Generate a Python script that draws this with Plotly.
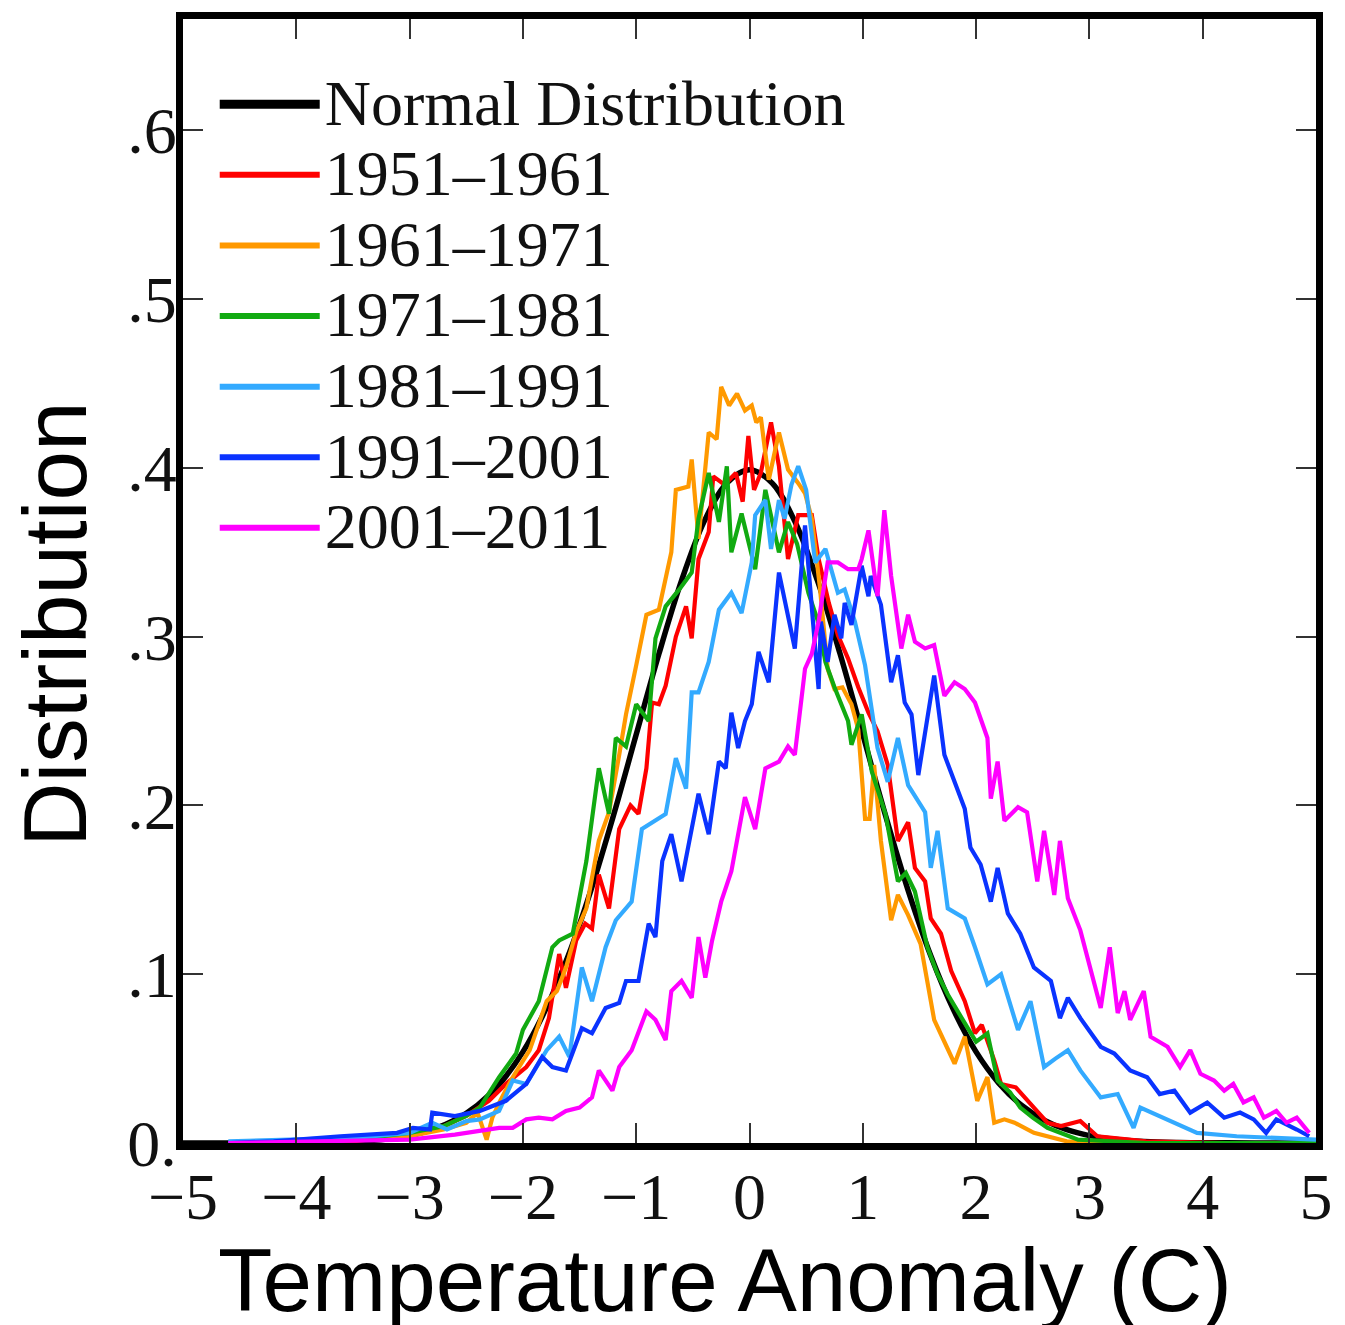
import plotly.graph_objects as go

# ---------------- data ----------------
normal_x = [-5.0, -4.6, -4.2, -4.0, -3.8, -3.6, -3.4, -3.2, -3.0, -2.8, -2.6, -2.4, -2.2, -2.0, -1.8, -1.6,
            -1.4, -1.2, -1.0, -0.8, -0.6, -0.4, -0.2, 0.0, 0.2, 0.4, 0.6, 0.8, 1.0, 1.2, 1.4, 1.6, 1.8,
            2.0, 2.2, 2.4, 2.6, 2.8, 3.0, 3.2, 3.4, 3.6, 3.8, 4.0, 4.2, 4.6, 5.0]
normal_y = [0.0, 0.0, 0.0001, 0.0001, 0.0003, 0.0006, 0.0012, 0.0024, 0.0044, 0.0079, 0.0136, 0.0224,
            0.0355, 0.0540, 0.0790, 0.1109, 0.1497, 0.1942, 0.2420, 0.2897, 0.3332, 0.3683, 0.3910,
            0.3989, 0.3910, 0.3683, 0.3332, 0.2897, 0.2420, 0.1942, 0.1497, 0.1109, 0.0790, 0.0540,
            0.0355, 0.0224, 0.0136, 0.0079, 0.0044, 0.0024, 0.0012, 0.0006, 0.0003, 0.0001, 0.0001,
            0.0, 0.0]

red_x = [-4.6, -3.5, -3.0, -2.7, -2.5, -2.3, -2.15, -1.97, -1.86, -1.77, -1.68, -1.62, -1.53, -1.45, -1.39,
         -1.33, -1.24, -1.15, -1.05, -0.98, -0.91, -0.86, -0.80, -0.74, -0.65, -0.56, -0.51, -0.45, -0.36,
         -0.32, -0.22, -0.12, -0.06, -0.01, 0.04, 0.10, 0.19, 0.26, 0.34, 0.43, 0.55, 0.61, 0.70, 0.78,
         0.87, 0.96, 1.05, 1.13, 1.22, 1.31, 1.40, 1.46, 1.55, 1.60, 1.69, 1.78, 1.90, 1.99, 2.05, 2.16,
         2.22, 2.35, 2.51, 2.63, 2.75, 2.92, 3.07, 3.5, 4.2, 5.0]
red_y = [0.0, 0.001, 0.005, 0.010, 0.016, 0.025, 0.035, 0.045, 0.055, 0.074, 0.112, 0.092, 0.120, 0.130,
         0.127, 0.159, 0.139, 0.186, 0.200, 0.195, 0.222, 0.261, 0.260, 0.271, 0.300, 0.318, 0.299, 0.346,
         0.362, 0.395, 0.390, 0.397, 0.380, 0.419, 0.387, 0.397, 0.427, 0.401, 0.346, 0.372, 0.372, 0.346,
         0.320, 0.301, 0.287, 0.270, 0.255, 0.244, 0.224, 0.179, 0.190, 0.163, 0.155, 0.133, 0.124, 0.102,
         0.084, 0.065, 0.070, 0.049, 0.035, 0.033, 0.021, 0.012, 0.010, 0.013, 0.004, 0.001, 0.0, 0.0]

orange_x = [-4.6, -3.5, -3.0, -2.7, -2.5, -2.4, -2.32, -2.27, -2.2, -2.09, -1.94, -1.79, -1.70, -1.62,
            -1.53, -1.44, -1.33, -1.24, -1.15, -1.09, -1.00, -0.91, -0.80, -0.69, -0.65, -0.54, -0.51,
            -0.45, -0.36, -0.29, -0.25, -0.18, -0.11, -0.04, 0.02, 0.06, 0.10, 0.17, 0.26, 0.34, 0.43,
            0.49, 0.55, 0.62, 0.69, 0.75, 0.82, 0.90, 0.96, 1.02, 1.06, 1.10, 1.16, 1.25, 1.31, 1.40,
            1.51, 1.63, 1.72, 1.81, 1.90, 2.01, 2.10, 2.16, 2.25, 2.34, 2.51, 2.80, 3.5, 5.0]
orange_y = [0.0, 0.002, 0.004, 0.008, 0.012, 0.018, 0.002, 0.015, 0.025, 0.039, 0.055, 0.084, 0.090,
            0.104, 0.125, 0.139, 0.179, 0.196, 0.230, 0.254, 0.283, 0.313, 0.316, 0.350, 0.387, 0.389,
            0.405, 0.358, 0.421, 0.417, 0.448, 0.437, 0.444, 0.434, 0.437, 0.427, 0.430, 0.393, 0.421,
            0.399, 0.391, 0.385, 0.370, 0.330, 0.281, 0.269, 0.270, 0.260, 0.245, 0.192, 0.192, 0.224,
            0.179, 0.132, 0.147, 0.135, 0.118, 0.073, 0.060, 0.047, 0.063, 0.025, 0.039, 0.012, 0.014,
            0.012, 0.006, 0.001, 0.0, 0.0]

green_x = [-4.6, -3.5, -3.0, -2.7, -2.5, -2.38, -2.21, -2.06, -2.00, -1.86, -1.74, -1.68, -1.56, -1.44,
           -1.33, -1.24, -1.18, -1.09, -1.00, -0.89, -0.83, -0.74, -0.62, -0.51, -0.45, -0.36, -0.27,
           -0.20, -0.16, -0.07, 0.05, 0.14, 0.26, 0.34, 0.42, 0.52, 0.60, 0.67, 0.75, 0.87, 0.90, 0.99,
           1.08, 1.16, 1.20, 1.31, 1.38, 1.46, 1.57, 1.66, 1.75, 1.90, 2.00, 2.10, 2.19, 2.30, 2.39,
           2.50, 2.63, 2.90, 3.5, 5.0]
green_y = [0.0, 0.002, 0.006, 0.010, 0.016, 0.021, 0.039, 0.053, 0.067, 0.084, 0.116, 0.120, 0.124,
           0.167, 0.222, 0.195, 0.240, 0.235, 0.260, 0.250, 0.299, 0.318, 0.328, 0.338, 0.370, 0.397,
           0.368, 0.401, 0.350, 0.373, 0.340, 0.387, 0.350, 0.368, 0.355, 0.326, 0.310, 0.285, 0.270,
           0.250, 0.236, 0.254, 0.220, 0.202, 0.195, 0.155, 0.160, 0.149, 0.116, 0.100, 0.088, 0.071,
           0.060, 0.065, 0.037, 0.030, 0.021, 0.015, 0.009, 0.002, 0.0, 0.0]

lblue_x = [-4.6, -3.5, -3.0, -2.8, -2.67, -2.5, -2.38, -2.21, -2.09, -1.97, -1.79, -1.68, -1.59, -1.48,
           -1.39, -1.27, -1.18, -1.04, -0.95, -0.85, -0.74, -0.65, -0.56, -0.51, -0.45, -0.36, -0.27,
           -0.16, -0.07, 0.02, 0.05, 0.14, 0.19, 0.26, 0.31, 0.37, 0.43, 0.50, 0.58, 0.67, 0.78, 0.84,
           0.93, 1.02, 1.13, 1.22, 1.31, 1.40, 1.55, 1.60, 1.66, 1.75, 1.90, 1.99, 2.10, 2.22, 2.37,
           2.48, 2.60, 2.70, 2.81, 2.92, 3.10, 3.25, 3.39, 3.45, 3.69, 3.95, 4.30, 4.70, 5.0]
lblue_y = [0.001, 0.003, 0.006, 0.012, 0.008, 0.013, 0.014, 0.019, 0.037, 0.035, 0.055, 0.063, 0.051,
           0.104, 0.084, 0.116, 0.132, 0.143, 0.186, 0.190, 0.195, 0.228, 0.210, 0.267, 0.267, 0.285,
           0.316, 0.326, 0.314, 0.344, 0.372, 0.381, 0.352, 0.381, 0.370, 0.390, 0.401, 0.387, 0.344,
           0.352, 0.326, 0.328, 0.309, 0.283, 0.234, 0.214, 0.240, 0.212, 0.196, 0.163, 0.185, 0.139,
           0.133, 0.116, 0.094, 0.100, 0.067, 0.084, 0.045, 0.050, 0.055, 0.043, 0.027, 0.029, 0.009,
           0.021, 0.014, 0.006, 0.004, 0.003, 0.002]

blue_x = [-4.6, -4.2, -3.61, -3.3, -3.11, -2.97, -2.82, -2.80, -2.6, -2.38, -2.15, -1.97, -1.83, -1.74,
          -1.62, -1.48, -1.39, -1.27, -1.15, -1.09, -0.98, -0.89, -0.83, -0.77, -0.69, -0.60, -0.45,
          -0.36, -0.27, -0.21, -0.16, -0.10, -0.04, 0.02, 0.08, 0.17, 0.26, 0.40, 0.49, 0.58, 0.61,
          0.63, 0.69, 0.75, 0.81, 0.84, 0.90, 0.99, 1.05, 1.07, 1.16, 1.25, 1.31, 1.37, 1.43, 1.49,
          1.57, 1.63, 1.72, 1.81, 1.90, 1.95, 2.04, 2.13, 2.19, 2.28, 2.39, 2.51, 2.66, 2.74, 2.81,
          2.92, 3.10, 3.22, 3.36, 3.51, 3.62, 3.75, 3.89, 4.04, 4.19, 4.33, 4.45, 4.56, 4.65, 4.83,
          4.94]
blue_y = [0.0, 0.001, 0.004, 0.005, 0.006, 0.009, 0.008, 0.018, 0.016, 0.019, 0.025, 0.035, 0.051, 0.045,
          0.043, 0.068, 0.065, 0.080, 0.083, 0.096, 0.096, 0.130, 0.122, 0.167, 0.183, 0.155, 0.207,
          0.183, 0.226, 0.222, 0.255, 0.234, 0.250, 0.260, 0.291, 0.273, 0.338, 0.293, 0.366, 0.293,
          0.269, 0.309, 0.285, 0.313, 0.299, 0.320, 0.307, 0.342, 0.324, 0.336, 0.319, 0.273, 0.289,
          0.261, 0.254, 0.218, 0.254, 0.277, 0.230, 0.214, 0.198, 0.175, 0.165, 0.143, 0.163, 0.136,
          0.124, 0.104, 0.096, 0.074, 0.086, 0.074, 0.057, 0.053, 0.043, 0.039, 0.029, 0.031, 0.018,
          0.024, 0.015, 0.018, 0.014, 0.006, 0.014, 0.008, 0.004]

magenta_x = [-4.6, -3.5, -3.0, -2.6, -2.32, -2.21, -2.09, -1.97, -1.86, -1.74, -1.62, -1.50, -1.39,
             -1.33, -1.21, -1.15, -1.04, -0.91, -0.83, -0.74, -0.69, -0.60, -0.51, -0.45, -0.39, -0.33,
             -0.25, -0.16, -0.04, 0.05, 0.14, 0.26, 0.34, 0.40, 0.49, 0.55, 0.61, 0.69, 0.78, 0.87,
             0.96, 0.99, 1.05, 1.13, 1.19, 1.25, 1.34, 1.40, 1.46, 1.55, 1.63, 1.72, 1.81, 1.90, 1.99,
             2.10, 2.13, 2.19, 2.25, 2.37, 2.45, 2.54, 2.60, 2.69, 2.74, 2.81, 2.92, 3.04, 3.10, 3.18,
             3.25, 3.31, 3.36, 3.48, 3.54, 3.69, 3.80, 3.89, 3.98, 4.10, 4.19, 4.27, 4.36, 4.45, 4.54,
             4.65, 4.74, 4.83, 4.94]
magenta_y = [0.0, 0.001, 0.002, 0.005, 0.008, 0.009, 0.009, 0.014, 0.015, 0.014, 0.019, 0.021, 0.027,
             0.043, 0.031, 0.045, 0.055, 0.078, 0.073, 0.061, 0.090, 0.096, 0.086, 0.122, 0.098, 0.120,
             0.143, 0.161, 0.205, 0.186, 0.222, 0.226, 0.235, 0.230, 0.281, 0.290, 0.309, 0.344, 0.344,
             0.340, 0.340, 0.346, 0.363, 0.324, 0.375, 0.336, 0.293, 0.313, 0.297, 0.293, 0.295, 0.265,
             0.273, 0.269, 0.261, 0.240, 0.204, 0.226, 0.191, 0.199, 0.196, 0.155, 0.185, 0.147, 0.179,
             0.145, 0.126, 0.096, 0.080, 0.116, 0.077, 0.090, 0.073, 0.090, 0.063, 0.057, 0.045, 0.055,
             0.041, 0.037, 0.031, 0.035, 0.024, 0.027, 0.015, 0.019, 0.012, 0.015, 0.006]

x_tickvals = [-5, -4, -3, -2, -1, 0, 1, 2, 3, 4, 5]
x_ticktext = ["\u22125", "\u22124", "\u22123", "\u22122", "\u22121", "0", "1", "2", "3", "4", "5"]
y_tickvals = [0.0, 0.1, 0.2, 0.3, 0.4, 0.5, 0.6]
y_ticktext = ["0.", ".1", ".2", ".3", ".4", ".5", ".6"]

series_names = ["Normal Distribution", "1951\u20131961", "1961\u20131971", "1971\u20131981",
                "1981\u20131991", "1991\u20132001", "2001\u20132011"]
series_x = [normal_x, red_x, orange_x, green_x, lblue_x, blue_x, magenta_x]
series_y = [normal_y, red_y, orange_y, green_y, lblue_y, blue_y, magenta_y]
series_colors = ["#000000", "#ff0000", "#ff9900", "#11aa11", "#33aaff", "#0a33ff", "#ff00ff"]

fig = go.Figure()
# curves
for i, (name, xs, ys, col) in enumerate(zip(series_names, series_x, series_y, series_colors)):
    is_norm = i == 0
    fig.add_trace(go.Scatter(
        x=xs, y=ys, mode="lines", name=name, showlegend=False,
        line=dict(color=col, width=5.5 if is_norm else 4.2,
                  shape="spline" if is_norm else "linear"),
    ))
# legend entries (thicker key lines, as in the reference)
for i, (name, col) in enumerate(zip(series_names, series_colors)):
    fig.add_trace(go.Scatter(
        x=[None], y=[None], mode="lines",
        name=f"<span style='font-size:64px'>{name}</span>",
        line=dict(color=col, width=9 if i == 0 else 6),
    ))

serif = "Liberation Serif, Times New Roman, serif"
sans = "Liberation Sans, Arial, Helvetica, sans-serif"

fig.update_layout(
    width=1345, height=1325,
    margin=dict(l=183, r=25, t=14, b=182),
    paper_bgcolor="white", plot_bgcolor="white",
    showlegend=True,
    legend=dict(x=0.028, y=0.960, xanchor="left", yanchor="top",
                font=dict(family=serif, size=52, color="#111"),
                bgcolor="rgba(0,0,0,0)", itemwidth=100, tracegroupgap=0),
    xaxis=dict(range=[-5, 5], tickvals=x_tickvals, ticktext=x_ticktext,
               ticks="inside", ticklen=20, tickwidth=2, tickcolor="#333",
               showline=True, linewidth=7, linecolor="black", mirror="ticks",
               showgrid=False, zeroline=False, ticklabelstandoff=-10,
               tickfont=dict(family=serif, size=66, color="#111")),
    yaxis=dict(range=[0, 0.666], tickvals=y_tickvals, ticktext=y_ticktext,
               ticks="inside", ticklen=20, tickwidth=2, tickcolor="#333",
               showline=True, linewidth=7, linecolor="black", mirror="ticks",
               showgrid=False, zeroline=False, ticklabelstandoff=-14,
               tickfont=dict(family=serif, size=66, color="#111")),
    annotations=[
        dict(text="Distribution", xref="paper", yref="paper", x=-0.1126, y=0.4615,
             xanchor="center", yanchor="middle", textangle=-90, showarrow=False,
             font=dict(family=sans, size=89, color="black")),
        dict(text="Temperature Anomaly (C)", xref="paper", yref="paper", x=0.478, y=-0.076,
             xanchor="center", yanchor="top", showarrow=False,
             font=dict(family=sans, size=89, color="black")),
    ],
)

fig.write_html("out.html")
